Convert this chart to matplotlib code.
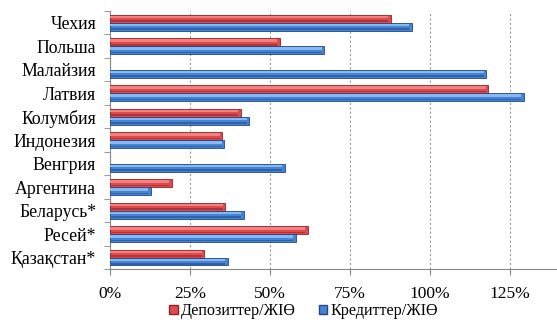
import matplotlib

matplotlib.use("Agg")
import matplotlib.pyplot as plt
import numpy as np
from matplotlib.patches import Patch

COUNTRIES = ["Чехия", "Польша", "Малайзия", "Латвия", "Колумбия", "Индонезия",
             "Венгрия", "Аргентина", "Беларусь*", "Ресей*", "Қазақстан*"]
DEPOSITS = [87.7, 53.0, 0.0, 118.3, 40.9, 35.1, 0.0, 19.3, 36.0, 61.8, 29.5]
CREDITS = [94.3, 67.0, 117.7, 129.3, 43.5, 35.7, 54.6, 12.7, 41.8, 58.0, 36.8]
SERIES = ["Депозиттер/ЖІӨ", "Кредиттер/ЖІӨ"]
XTICKS = [0, 25, 50, 75, 100, 125]

RED, RED_HI, RED_LO, RED_EDGE = "#df4a4d", "#f58080", "#b03436", "#8f2426"
BLUE, BLUE_HI, BLUE_LO, BLUE_EDGE = "#4384d6", "#86b8f2", "#2f62a8", "#23477f"

plt.rcParams["font.family"] = ["Liberation Serif", "DejaVu Serif"]

fig = plt.figure(figsize=(5.57, 3.24), dpi=100)
ax = fig.add_axes([0.1975, 0.169, 0.8005, 0.797])

y = np.arange(len(COUNTRIES))
h = 0.34
dep = np.array(DEPOSITS)
cred = np.array(CREDITS)


def bars(ypos, vals, base, hi, lo, edge):
    # shaded horizontal bars to mimic the beveled 3D look
    edges = [edge if v > 0 else "none" for v in vals]
    ax.barh(ypos, vals, height=h, color=base, edgecolor=edges, lw=0.6, zorder=3)
    inner = np.where(vals > 0, vals - 0.8, 0)
    ax.barh(ypos - h * 0.2, inner, height=h * 0.3, color=hi, lw=0, zorder=4)
    ax.barh(ypos + h * 0.3, inner, height=h * 0.22, color=lo, lw=0, zorder=4)


bars(y - h / 2, dep, RED, RED_HI, RED_LO, RED_EDGE)
bars(y + h / 2, cred, BLUE, BLUE_HI, BLUE_LO, BLUE_EDGE)

ax.set_ylim(len(COUNTRIES) - 0.5, -0.5)
ax.set_xlim(0, 139.4)

ax.set_yticks(y)
ax.set_yticklabels(COUNTRIES, fontsize=12.8)
ax.set_yticks(np.arange(len(COUNTRIES) + 1) - 0.5, minor=True)
ax.tick_params(axis="y", which="major", length=0, pad=10)
ax.tick_params(axis="y", which="minor", length=4, color="#888888")

ax.set_xticks(XTICKS)
ax.set_xticklabels([f"{t}%" for t in XTICKS], fontsize=12.5)
ax.tick_params(axis="x", length=4, color="#888888", pad=8)

ax.grid(axis="x", color="#999999", ls=(0, (2, 2)), lw=0.8, zorder=0)
for s in ["top", "right"]:
    ax.spines[s].set_visible(False)
for s in ["left", "bottom"]:
    ax.spines[s].set_color("#888888")

handles = [Patch(facecolor=RED, edgecolor=RED_EDGE), Patch(facecolor=BLUE, edgecolor=BLUE_EDGE)]
fig.legend(handles, SERIES, loc="lower center", bbox_to_anchor=(0.545, -0.03), ncol=2,
           frameon=False, fontsize=11.6, handlelength=0.55, handleheight=0.55,
           handletextpad=0.2, columnspacing=1.4)

fig.savefig("out.png", dpi=100)
